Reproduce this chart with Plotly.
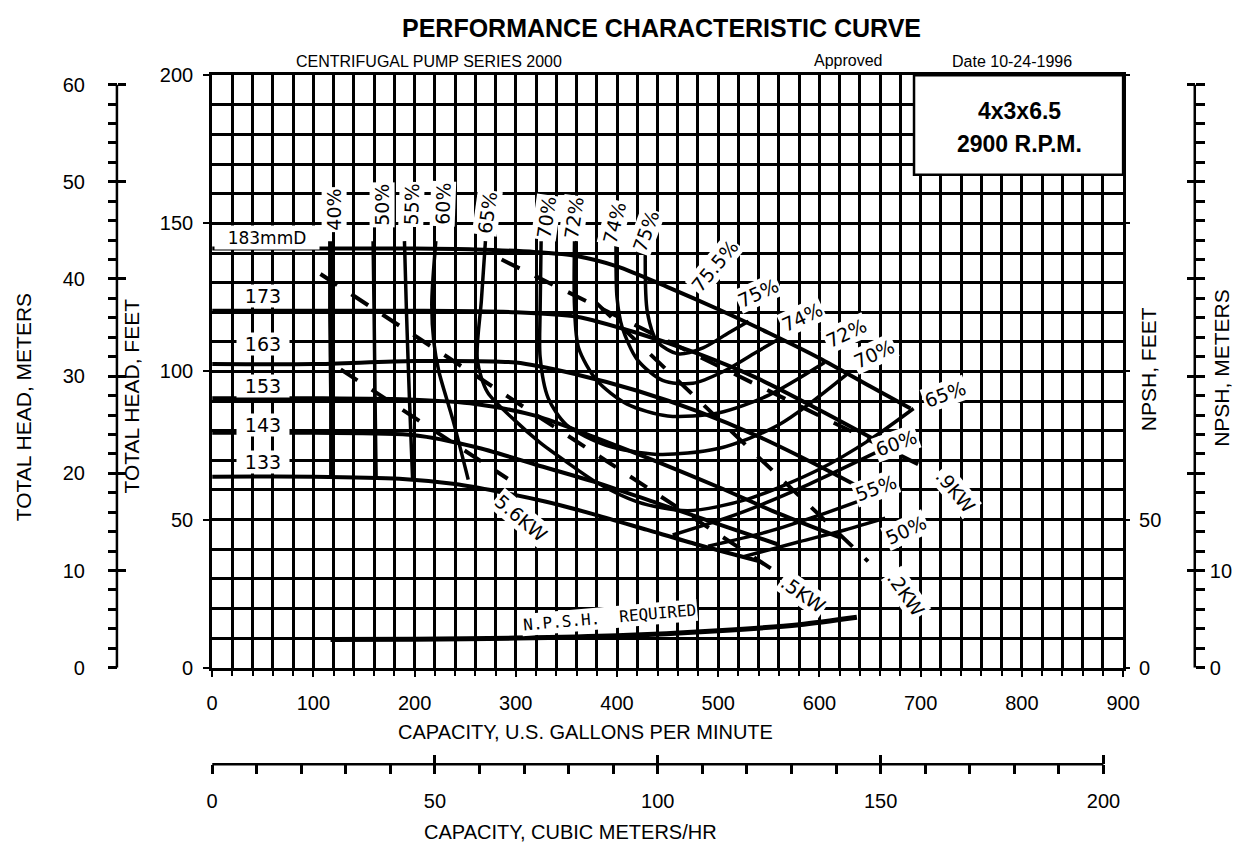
import plotly.graph_objects as go

# ---------------- data (GPM, feet) ----------------
gpm_183 = [0, 100, 200, 260, 320, 360, 400, 450, 500, 550, 600, 650, 690]
ft_183 = [141.5, 141.5, 141.5, 141.2, 140.3, 139, 135.5, 128.5, 121, 113, 104.5, 95, 87.5]
gpm_173 = [0, 100, 200, 300, 360, 420, 480, 540, 600, 660]
ft_173 = [120.5, 120.5, 120.5, 120, 118.5, 113, 106, 97.5, 87, 76]
gpm_163 = [0, 100, 200, 300, 360, 420, 480, 540, 600, 650]
ft_163 = [102.5, 102.5, 103.5, 103, 99, 93.5, 86.5, 78, 68, 59]
gpm_153 = [0, 100, 200, 260, 320, 380, 440, 500, 560, 620]
ft_153 = [91, 91, 90.5, 89, 85, 77.5, 69.5, 61, 52, 44]
gpm_143 = [0, 100, 200, 260, 320, 380, 440, 500, 560]
ft_143 = [79.3, 79.3, 78.5, 74.5, 68.5, 62.5, 55.5, 48.5, 41.5]
gpm_133 = [0, 100, 185, 240, 282, 330, 379, 430, 480, 540]
ft_133 = [64.5, 64.5, 63.8, 62, 59.5, 56, 51.6, 46.5, 41.5, 36]
head_labels = ["183mmD", "173", "163", "153", "143", "133"]

# efficiency contours
e40_q = [117, 117, 118, 118]; e40_h = [144, 120, 90, 64.5]
e50_q = [159, 160, 161, 162]; e50_h = [144, 120, 90, 64]
e55_q = [190, 192, 195, 198]; e55_h = [144, 120, 90, 64]
e60_q = [221, 217, 219, 224, 238, 253]; e60_h = [144, 123, 110, 100, 83.5, 63.5]
e60r_q = [455, 520, 590, 655]; e60r_h = [44.8, 52, 62, 72.5]
e55r_q = [490, 550, 600, 645]; e55r_h = [41, 46, 51.5, 57]
e50r_q = [525, 580, 625, 665]; e50r_h = [37.5, 42.5, 46.5, 50.5]
e65_q = [270, 266, 262, 272, 299, 324, 350, 380, 420, 470, 530, 600, 650, 693]
e65_h = [144, 124, 104, 93, 83.5, 76, 69.5, 62.5, 56, 53, 57, 67, 77, 87.5]
e70_q = [325, 324, 324, 332, 350, 390, 440, 500, 560, 627]
e70_h = [144, 120, 105, 91, 82, 75, 72, 74, 82, 99]
e72_q = [358, 358, 362, 380, 410, 450, 500, 550, 605]
e72_h = [144, 122, 108, 97, 89, 85, 86, 92, 103]
e74_q = [399, 400, 405, 420, 445, 475, 505, 535, 560]
e74_h = [144, 125, 115, 104, 97, 96, 100, 106, 111]
e75_q = [428, 430, 440, 460, 485, 510, 530]
e75_h = [144, 120, 110, 106, 108, 113, 117]

# power lines (dashed)
p56_q = [127, 292]; p56_h = [100.7, 63.8]
p75_q = [107, 556]; p75_h = [132.9, 32.6]
p99_q = [286, 707]; p99_h = [137.8, 67.1]
p112_q = [380, 648]; p112_h = [123, 35.9]

# NPSH required
npsh_q = [117, 200, 300, 400, 500, 580, 637]
npsh_h = [9.5, 9.6, 10, 10.8, 12.5, 14.5, 17]

W, H = 1253, 856
def px(x): return x / W
def py(y): return 1 - y / H

FT_PER_M = 3.28084
GPM_PER_M3H = 4.40287
TYPE = "Liberation Sans, Arial, sans-serif"
HAND = "DejaVu Sans, sans-serif"
MONO = "DejaVu Sans Mono, monospace"

fig = go.Figure()

def line(q, h, width=4, dash=None, shape="spline"):
    fig.add_trace(go.Scatter(x=q, y=h, mode="lines", line=dict(color="black", width=width, dash=dash,
                              shape=shape, smoothing=0.8), hoverinfo="skip", showlegend=False))

for q, h in [(gpm_183, ft_183), (gpm_173, ft_173), (gpm_163, ft_163), (gpm_153, ft_153),
             (gpm_143, ft_143), (gpm_133, ft_133)]:
    line(q, h, 4)
line(e40_q, e40_h, 5)
for q, h in [(e50_q, e50_h), (e55_q, e55_h), (e60_q, e60_h), (e60r_q, e60r_h),
             (e55r_q, e55r_h), (e50r_q, e50r_h), (e65_q, e65_h), (e70_q, e70_h), (e72_q, e72_h),
             (e74_q, e74_h), (e75_q, e75_h)]:
    line(q, h, 3.5)
for q, h in [(p56_q, p56_h), (p75_q, p75_h), (p99_q, p99_h), (p112_q, p112_h)]:
    line(q, h, 4, dash="20px,17px", shape="linear")
line(npsh_q, npsh_h, 5)

# dummy traces so extra axes are drawn
for xa, ya in [("x", "y2"), ("x", "y3"), ("x", "y4"), ("x", "y5"), ("x", "y6"), ("x2", "y"), ("x3", "y")]:
    fig.add_trace(go.Scatter(x=[None], y=[None], xaxis=xa, yaxis=ya, showlegend=False, hoverinfo="skip"))

tf = dict(family=TYPE, size=20, color="black")
grid = dict(showgrid=True, gridcolor="black", gridwidth=3)
XR = 1138
fig.update_layout(
    width=W, height=H, margin=dict(l=0, r=0, t=0, b=0),
    paper_bgcolor="white", plot_bgcolor="white", showlegend=False,
    xaxis=dict(domain=[px(210), px(XR)], range=[0, 900], dtick=100, tick0=0, ticks="outside", ticklen=6,
               tickwidth=2, tickcolor="black", **grid,
               minor=dict(dtick=20, ticks="outside", ticklen=5, tickwidth=2, tickcolor="black",
                          showgrid=True, gridcolor="black", gridwidth=3),
               showline=True, linecolor="black", linewidth=3, mirror=True, zeroline=False,
               tickfont=tf, ticklabelstandoff=9, fixedrange=True),
    yaxis=dict(domain=[py(674), py(66)], range=[0, 200], dtick=50, tick0=0, ticks="outside", ticklen=6,
               tickwidth=2, tickcolor="black", **grid,
               minor=dict(dtick=10, showgrid=True, gridcolor="black", gridwidth=3),
               showline=True, linecolor="black", linewidth=3, mirror=True, zeroline=False,
               tickfont=tf, ticklabelstandoff=6, fixedrange=True),
    yaxis2=dict(overlaying="y", anchor="free", position=px(113), side="left", range=[0, 200 / FT_PER_M],
                dtick=10, tick0=0, ticks="outside", ticklen=9, tickwidth=2.5, tickcolor="black",
                minor=dict(dtick=2, ticks="outside", ticklen=9, tickwidth=2.5, tickcolor="black"),
                showgrid=False, zeroline=False, showline=False, tickfont=tf, ticklabelstandoff=19),
    yaxis3=dict(overlaying="y", anchor="free", position=px(113), side="left", range=[0, 200 / FT_PER_M],
                dtick=10, tick0=0, ticks="inside", ticklen=8, tickwidth=2.5, tickcolor="black",
                showticklabels=False, showgrid=False, zeroline=False, showline=False),
    yaxis4=dict(overlaying="y", anchor="free", position=px(1211), side="right", range=[0, 200 / FT_PER_M],
                dtick=10, tick0=0, ticks="outside", ticklen=9, tickwidth=2.5, tickcolor="black",
                minor=dict(dtick=2, ticks="outside", ticklen=9, tickwidth=2.5, tickcolor="black"),
                labelalias={"20": "", "30": "", "40": "", "50": "", "60": ""},
                showgrid=False, zeroline=False, showline=False, tickfont=tf, ticklabelstandoff=1),
    yaxis5=dict(overlaying="y", anchor="free", position=px(1211), side="right", range=[0, 200 / FT_PER_M],
                dtick=10, tick0=0, ticks="inside", ticklen=8, tickwidth=2.5, tickcolor="black",
                showticklabels=False, showgrid=False, zeroline=False, showline=False),
    yaxis6=dict(overlaying="y", anchor="x", side="right", range=[0, 200], dtick=50, tick0=0,
                ticks="outside", ticklen=6, tickwidth=2, tickcolor="black",
                labelalias={"100": "", "150": "", "200": ""},
                showgrid=False, zeroline=False, showline=False, tickfont=tf, ticklabelstandoff=5),
    xaxis2=dict(overlaying="x", anchor="free", position=py(773), side="bottom", range=[0, 900 / GPM_PER_M3H],
                dtick=50, tick0=0, ticks="outside", ticklen=9, tickwidth=2.5, tickcolor="black",
                minor=dict(dtick=10, ticks="outside", ticklen=9, tickwidth=2.5, tickcolor="black"),
                showgrid=False, zeroline=False, showline=False, tickfont=tf, ticklabelstandoff=10),
    xaxis3=dict(overlaying="x", anchor="free", position=py(773), side="bottom", range=[0, 900 / GPM_PER_M3H],
                dtick=50, tick0=0, ticks="inside", ticklen=9, tickwidth=2.5, tickcolor="black",
                showticklabels=False, showgrid=False, zeroline=False, showline=False),
)

shapes = [
    dict(type="line", xref="paper", yref="y2", x0=px(113), x1=px(113), y0=0, y1=60, line=dict(color="black", width=2.5)),
    dict(type="line", xref="paper", yref="y4", x0=px(1211), x1=px(1211), y0=0, y1=60, line=dict(color="black", width=2.5)),
    dict(type="line", xref="x2", yref="paper", x0=0, x1=200, y0=py(773), y1=py(773), line=dict(color="black", width=2.5)),
    dict(type="rect", xref="paper", yref="paper", x0=px(XR - 213), x1=px(XR), y0=py(168), y1=py(66),
         fillcolor="white", line=dict(color="black", width=2.5), layer="above"),
]
fig.update_layout(shapes=shapes)

ann = []
def text_p(x, y, t, size=17, angle=0, bold=False, font=TYPE):
    ann.append(dict(xref="paper", yref="paper", x=px(x), y=py(y), text=f"<b>{t}</b>" if bold else t,
                    showarrow=False, textangle=angle, xanchor="center", yanchor="middle",
                    font=dict(family=font, size=size, color="black")))

text_p(668, 17, "PERFORMANCE CHARACTERISTIC CURVE", 25, bold=True)
text_p(431, 52, "CENTRIFUGAL PUMP SERIES 2000", 16)
text_p(858, 51, "Approved", 16)
text_p(1025, 52, "Date 10-24-1996", 16)
text_p(XR - 106, 103, "4x3x6.5", 23, bold=True)
text_p(XR - 106, 137, "2900 R.P.M.", 23, bold=True)
text_p(590, 740, "CAPACITY, U.S. GALLONS PER MINUTE", 20)
text_p(575, 843, "CAPACITY, CUBIC METERS/HR", 20)
text_p(18, 407, "TOTAL HEAD, METERS", 21, angle=-90)
text_p(128, 395, "TOTAL HEAD, FEET", 21, angle=-90)
text_p(1164, 368, "NPSH, FEET", 21, angle=-90)
text_p(1238, 366, "NPSH, METERS", 21, angle=-90)

def lab(x, y, t, angle=0, size=19, w=None, h=None, font=HAND):
    d = dict(xref="paper", yref="paper", x=px(x), y=py(y), text=t, showarrow=False, textangle=angle,
             xanchor="center", yanchor="middle", bgcolor="white", borderpad=1,
             font=dict(family=font, size=size, color="black"))
    if w: d["width"] = w
    if h: d["height"] = h
    ann.append(d)

lab(266, 232, head_labels[0], size=17, w=102, h=21)
for t, yy in zip(head_labels[1:], [293, 342, 385, 425, 463]):
    lab(262, yy, t, size=19, w=50, h=20)

for t, x, y, a in [("40%", 334, 204, -90), ("50%", 383, 199, -90), ("55%", 413, 198, -88),
                   ("60%", 445, 198, -88), ("65%", 490, 207, -82), ("70%", 550, 212, -82),
                   ("72%", 578, 212, -82), ("74%", 620, 218, -76), ("75%", 652, 226, -70),
                   ("75.5%", 722, 262, -50),
                   ("75%", 766, 289, -25), ("74%", 811, 314, -25), ("72%", 856, 330, -25),
                   ("70%", 884, 352, -25), ("65%", 957, 393, -20), ("60%", 907, 443, -20),
                   ("55%", 886, 490, -20), ("50%", 917, 533, -25)]:
    lab(x, y, t, a)
for t, x, y, a in [("5.6KW", 525, 520, 40), (".5KW", 812, 598, 35), (".9KW", 967, 493, 50),
                   (".2KW", 917, 598, 55)]:
    lab(x, y, t, a)
lab(615, 622, "N.P.S.H.  REQUIRED", -5, size=16, font=MONO)

fig.update_layout(annotations=ann)
fig.write_html("out.html")
